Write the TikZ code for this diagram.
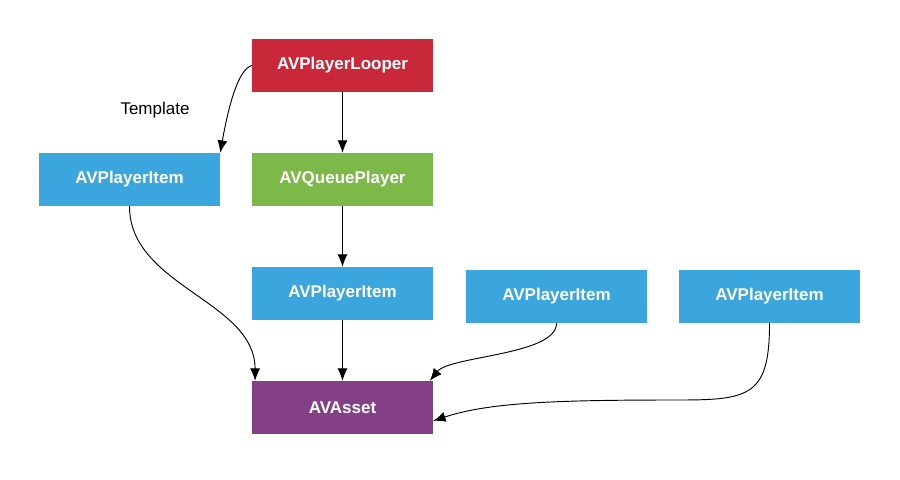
\documentclass[tikz,border=0pt]{standalone}
\usepackage{fontspec}
\setmainfont{Liberation Sans}
\usetikzlibrary{arrows.meta}
\definecolor{looperred}{HTML}{C8283A}
\definecolor{queuegreen}{HTML}{7CB948}
\definecolor{itemblue}{HTML}{3BA6DE}
\definecolor{assetpurple}{HTML}{844087}
\begin{document}
\begin{tikzpicture}[x=0.03cm, y=0.03cm, node distance=3.42cm,
  box/.style={rectangle, minimum width=5.43cm, minimum height=1.59cm, text=white,
    font=\fontsize{14.5}{17}\selectfont\bfseries},
  link/.style={-{Latex[length=0.37cm,width=0.3cm]}, line width=0.8pt}]
  \fill[white] (0,0) rectangle (900,480);
  \useasboundingbox (0,0) rectangle (900,480);

  \node (looper) [box, fill=looperred] at (342.5,414.5) {AVPlayerLooper};
  \node (queue) [box, fill=queuegreen, below of=looper] {AVQueuePlayer};
  \node (current) [box, fill=itemblue, below of=queue] {AVPlayerItem};
  \node (asset) [box, fill=assetpurple, below of=current] {AVAsset};
  \node (tmplitem) [box, fill=itemblue, node distance=6.39cm, left of=queue] {AVPlayerItem};
  \node (nextitem) [box, fill=itemblue, node distance=6.42cm, right of=current, yshift=-0.09cm] {AVPlayerItem};
  \node (lastitem) [box, fill=itemblue, node distance=6.39cm, right of=nextitem] {AVPlayerItem};
  \node (tmpltext) [font=\fontsize{14.5}{17}\selectfont] at (155,370) {Template};

  \draw [link] (looper) -- (queue);
  \draw [link] (queue) -- (current);
  \draw [link] (current) -- (asset);
  \draw [link] (looper.west) .. controls +(-14,-4) and +(8,45) .. (tmplitem.north east);
  \draw [link] (tmplitem.south) .. controls +(0,-80) and +(0,80) .. ([xshift=0.1cm]asset.north west);
  \draw [link] (nextitem.south) .. controls +(0,-32) and +(20,25) .. ([xshift=-0.1cm]asset.north east);
  \draw [link] (lastitem.south) .. controls +(0,-72) and (750,80) .. (680,80)
    .. controls (560,80) and (490,78) .. ([yshift=-0.4cm]asset.east);
\end{tikzpicture}
\end{document}
